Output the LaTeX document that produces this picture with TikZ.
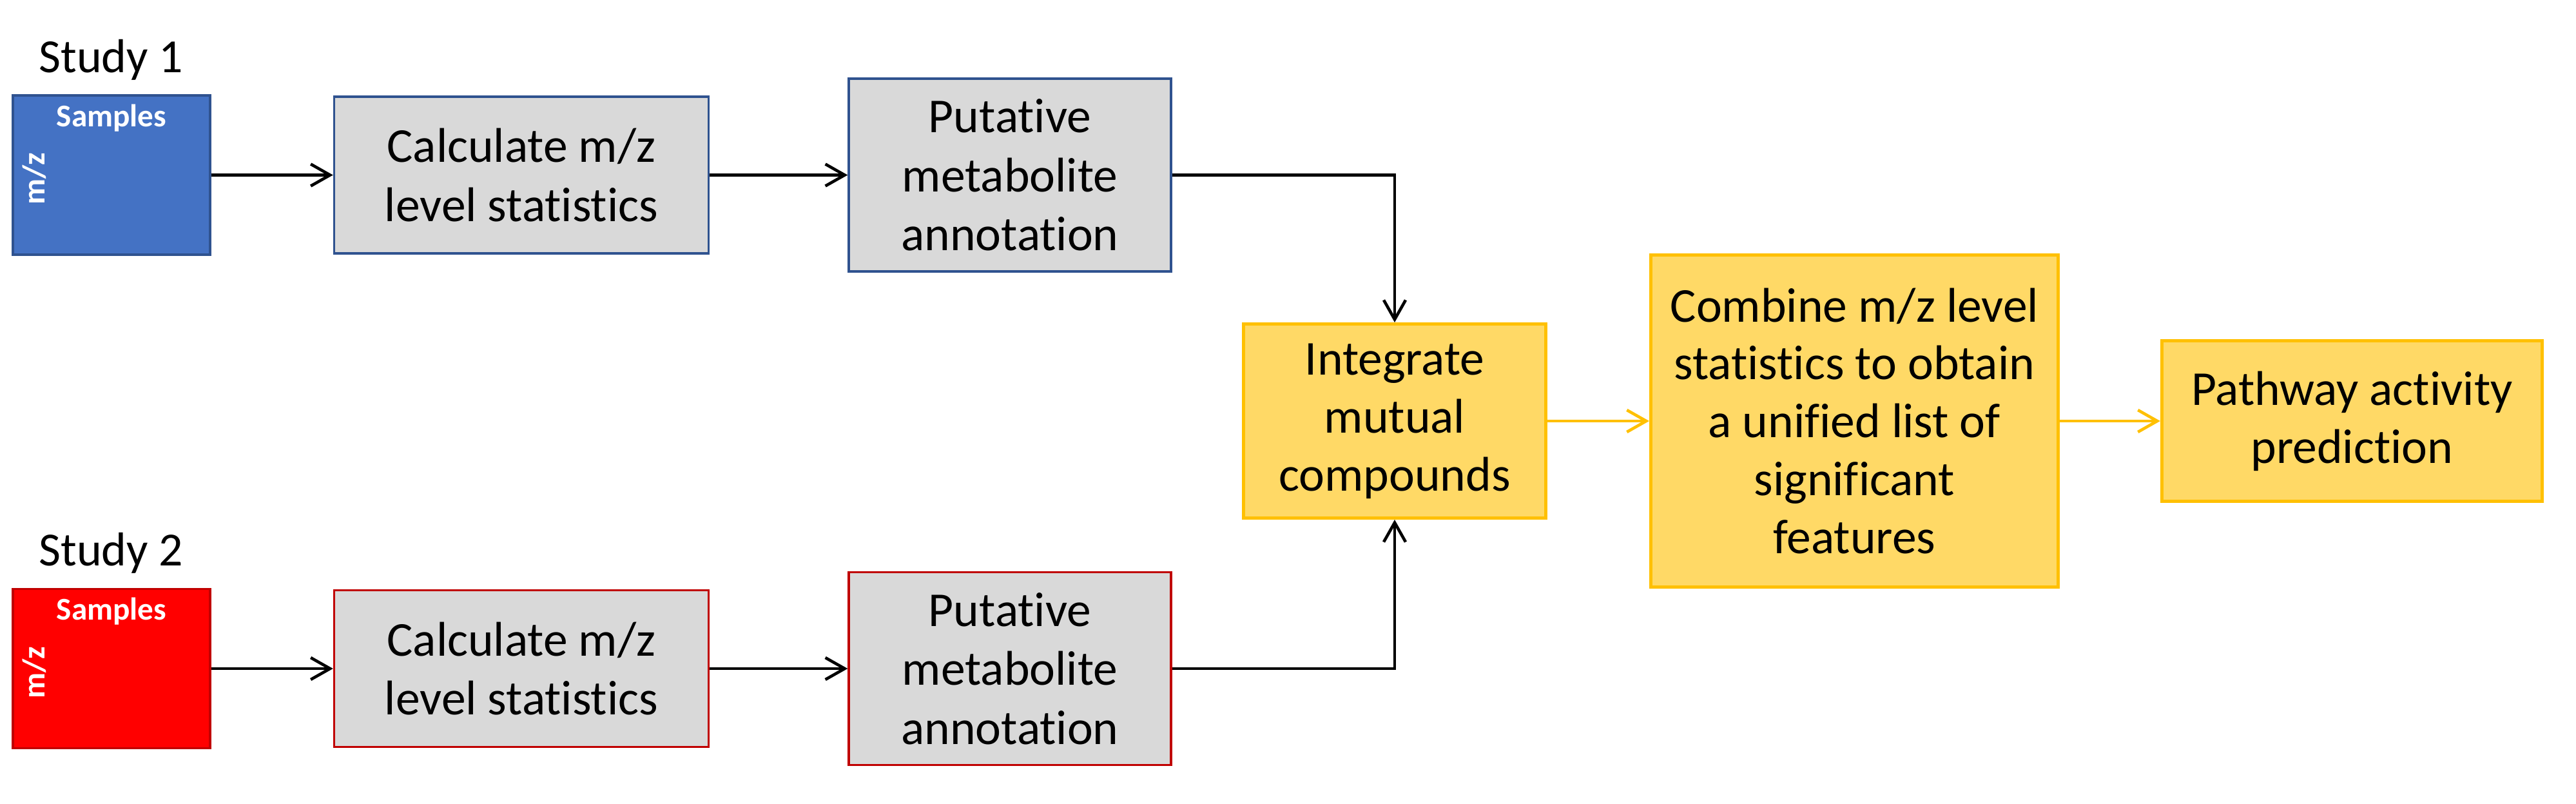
\documentclass[tikz,border=0pt]{standalone}
\usepackage{fontspec}
\setmainfont[Ligatures=NoCommon]{Carlito}
\usepackage{tikz}
\usetikzlibrary{positioning,arrows.meta}
\definecolor{studyblue}{HTML}{4472C4}
\definecolor{blueedge}{HTML}{2F528F}
\definecolor{studyred}{HTML}{FF0000}
\definecolor{rededge}{HTML}{C00000}
\definecolor{boxgray}{HTML}{D9D9D9}
\definecolor{mergefill}{HTML}{FFD966}
\definecolor{mergeedge}{HTML}{FFC000}

\begin{document}
\begin{tikzpicture}[auto, thick,
	sample node/.style={rectangle,draw,line width=1pt,minimum width=3.06cm,minimum height=2.47cm,inner sep=0pt},
	sample label/.style={text=white,inner sep=0pt,font=\fontsize{14}{17}\selectfont\bfseries},
	study label/.style={inner sep=0pt,font=\fontsize{21}{25}\selectfont},
	step node/.style={rectangle,draw,line width=1pt,fill=boxgray,align=center,inner sep=0pt,font=\fontsize{21.5}{26}\selectfont},
	merge node/.style={rectangle,draw=mergeedge,line width=1.4pt,fill=mergefill,align=center,inner sep=0pt,font=\fontsize{21.5}{25.6}\selectfont},
	link/.style={-{Straight Barb[length=3mm,width=3.4mm]},line width=1.3pt}]
	
	\useasboundingbox (0,0) rectangle (39.97,-12.47);
	
	\node[sample node,draw=blueedge,fill=studyblue] (s1) at (1.73,-2.715) {};
	\node[step node,draw=blueedge,minimum width=5.81cm,minimum height=2.43cm] (c1) [right=1.89cm of s1] {Calculate m/z\\level statistics};
	\node[step node,draw=blueedge,minimum width=5.0cm,minimum height=2.99cm] (p1) [right=2.14cm of c1] {Putative\\metabolite\\annotation};
	
	\node[sample node,draw=rededge,fill=studyred] (s2) [below=5.15cm of s1] {};
	\node[step node,draw=rededge,minimum width=5.81cm,minimum height=2.43cm] (c2) [right=1.89cm of s2] {Calculate m/z\\level statistics};
	\node[step node,draw=rededge,minimum width=5.0cm,minimum height=2.99cm] (p2) [right=2.14cm of c2] {Putative\\metabolite\\annotation};
	
	\node[study label,anchor=base west] (t1) at ([xshift=0.41cm,yshift=0.34cm]s1.north west) {Study 1};
	\node[study label,anchor=base west] (t2) at ([xshift=0.41cm,yshift=0.34cm]s2.north west) {Study 2};
	\node[sample label,anchor=base] (l1) at ([yshift=-0.5cm]s1.north) {Samples};
	\node[sample label,anchor=base] (l2) at ([yshift=-0.5cm]s2.north) {Samples};
	\node[sample label,rotate=90] (m1) at ([xshift=0.35cm,yshift=-0.06cm]s1.west) {m/z};
	\node[sample label,rotate=90] (m2) at ([xshift=0.35cm,yshift=-0.06cm]s2.west) {m/z};
	
	\node[merge node,minimum width=4.69cm,minimum height=3.01cm] (int) at (21.64,-6.53) {Integrate\\mutual\\compounds};
	\node[merge node,minimum width=6.32cm,minimum height=5.15cm] (comb) [right=1.58cm of int] {Combine m/z level\\statistics to obtain\\a unified list of\\significant\\features};
	\node[merge node,minimum width=5.90cm,minimum height=2.49cm] (path) [right=1.56cm of comb] {Pathway activity\\prediction};
	
	\path[link]
	(s1) edge (c1)
	(c1) edge (p1)
	(s2) edge (c2)
	(c2) edge (p2);
	\draw[link] (p1) -| (int);
	\draw[link] (p2) -| (int);
	\path[link,mergeedge]
	(int) edge (comb)
	(comb) edge (path);
\end{tikzpicture}
\end{document}
